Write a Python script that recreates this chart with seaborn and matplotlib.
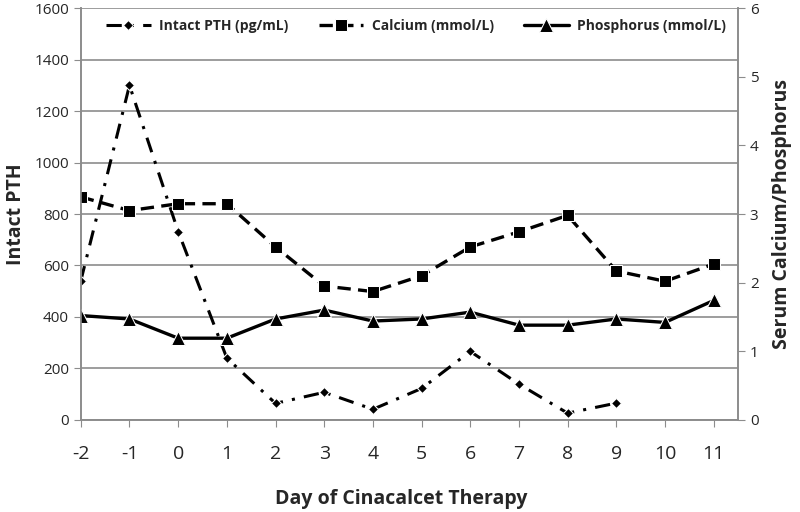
"""
Intact PTH, calcium et phosphore pendant le traitement par cinacalcet.
"""

import numpy as np
import pandas as pd
import matplotlib
matplotlib.use("Agg")
import matplotlib.pyplot as plt
import seaborn as sns

days = [-2, -1, 0, 1, 2, 3, 4, 5, 6, 7, 8, 9, 10, 11]
pth = [540, 1300, 732, 240, 64, 107, 41, 122, 266, 139, 26, 65, None, None]
calcium = [3.25, 3.05, 3.15, 3.15, 2.52, 1.95, 1.87, 2.10, 2.52, 2.74, 2.98, 2.17, 2.02, 2.27]
phosphorus = [1.52, 1.47, 1.19, 1.19, 1.47, 1.60, 1.44, 1.47, 1.57, 1.38, 1.38, 1.47, 1.42, 1.74]

left_ticks = [0, 200, 400, 600, 800, 1000, 1200, 1400, 1600]
right_ticks = [0, 1, 2, 3, 4, 5, 6]
labels = ["Intact PTH (pg/mL)", "Calcium (mmol/L)", "Phosphorus (mmol/L)"]

sns.set_style("white")
plt.rcParams["font.family"] = ["Open Sans", "DejaVu Sans"]

df = pd.DataFrame({"day": days, "pth": pth, "calcium": calcium, "phosphorus": phosphorus})
df["pth"] = pd.to_numeric(df["pth"])

fig, ax = plt.subplots(figsize=(8, 5.12), dpi=100)
fig.subplots_adjust(left=0.101, right=0.9225, top=0.984, bottom=0.18)
ax2 = ax.twinx()

grey = "#8c8c8c"

sns.lineplot(data=df.dropna(subset=["pth"]), x="day", y="pth", ax=ax, color="black",
             marker="D", markersize=5, linewidth=2.2, linestyle=(0, (5, 3, 1, 3)),
             legend=False)
sns.lineplot(data=df, x="day", y="calcium", ax=ax2, color="black",
             marker="s", markersize=9, linewidth=2.4, linestyle=(0, (4, 2.2)),
             legend=False)
sns.lineplot(data=df, x="day", y="phosphorus", ax=ax2, color="black",
             marker="^", markersize=10, linewidth=2.4, linestyle="-",
             legend=False)

ax.set_xlim(-2, 11.5)
ax.set_ylim(0, 1600)
ax2.set_ylim(0, 6)
ax.set_yticks(left_ticks)
ax2.set_yticks(right_ticks)
ax.set_xticks(days)
ax.set_xticklabels([str(d) for d in days], fontsize=14)

ax.yaxis.grid(True, color=grey, linewidth=1.2)
ax.set_axisbelow(True)

for a in (ax, ax2):
    for s in a.spines.values():
        s.set_color(grey)
        s.set_linewidth(1.2)
    a.spines["top"].set_visible(False)

ax.tick_params(axis="x", direction="out", length=5, color=grey, pad=13, bottom=True)
ax.tick_params(axis="y", direction="out", length=5, color=grey, labelsize=11, left=True)
ax2.tick_params(axis="y", direction="out", length=5, color=grey, labelsize=11, right=True)

ax.set_xlabel("Day of Cinacalcet Therapy", fontsize=14, fontweight="bold", labelpad=19)
ax.xaxis.label.set_x(0.487)
ax.set_ylabel("Intact PTH", fontsize=14, fontweight="bold", labelpad=6)
ax2.set_ylabel("Serum Calcium/Phosphorus", fontsize=14, fontweight="bold", labelpad=10)

handles = [ax.lines[0], ax2.lines[0], ax2.lines[1]]
ax2.legend(handles, labels, loc="upper center", bbox_to_anchor=(0.51, 1.005), ncol=3,
           frameon=False, handlelength=3.2, handletextpad=0.6, columnspacing=2.2,
           prop={"weight": "bold", "size": 10})

fig.savefig("out.png", dpi=100)
